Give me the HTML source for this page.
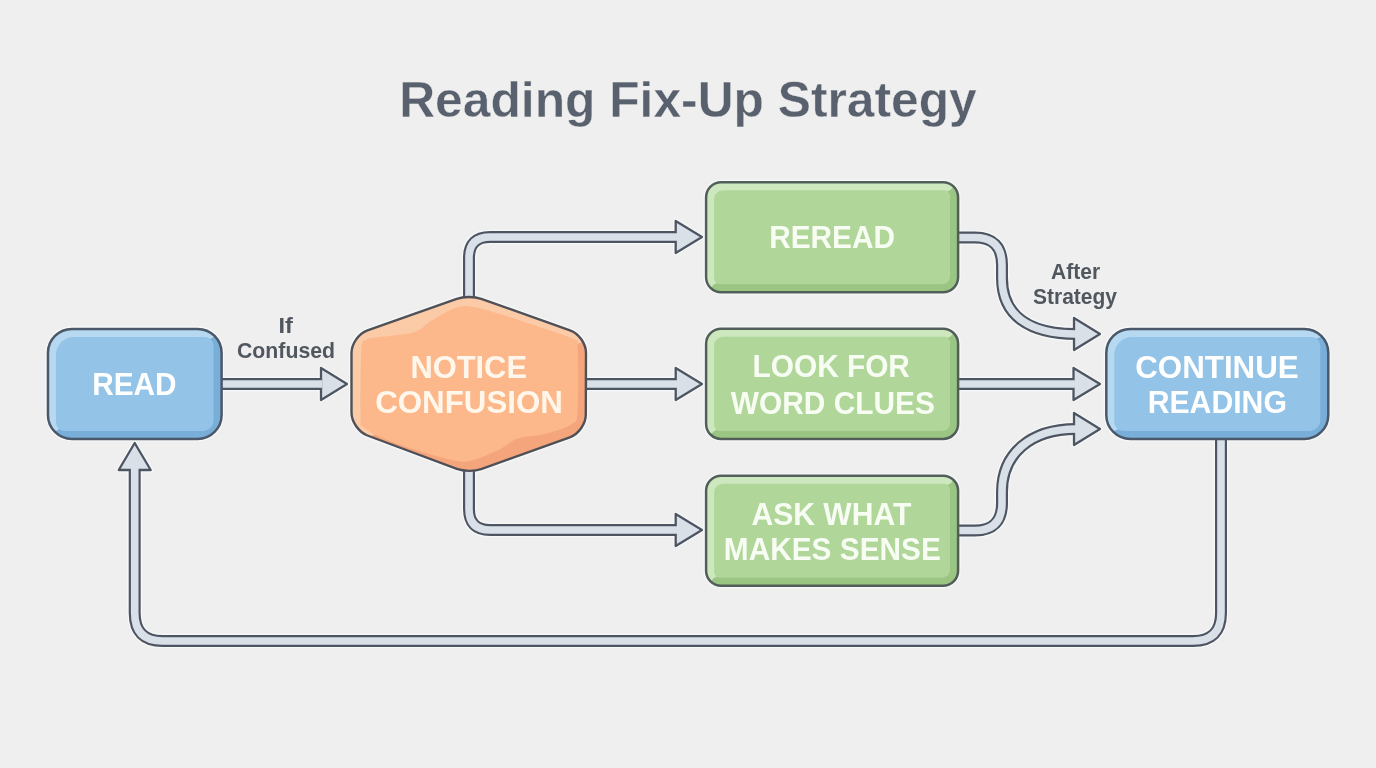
<!DOCTYPE html>
<html><head><meta charset="utf-8"><title>Reading Fix-Up Strategy</title>
<style>
html,body{margin:0;padding:0;background:#efefef;width:1376px;height:768px;overflow:hidden;}
svg{display:block;font-family:"Liberation Sans",sans-serif;will-change:transform;}
</style></head><body>
<svg width="1376" height="768" viewBox="0 0 1376 768">
<rect width="1376" height="768" fill="#efefef"/>
<path d="M 220 384 L 322 384" fill="none" stroke="#fbfdfe" stroke-opacity="0.6" stroke-width="14.6" stroke-linejoin="round"/>
<polygon points="321,368 347,384 321,400" fill="none" stroke="#fbfdfe" stroke-opacity="0.6" stroke-width="4.9" stroke-linejoin="round"/>
<path d="M 584 384 L 678 384" fill="none" stroke="#fbfdfe" stroke-opacity="0.6" stroke-width="14.6" stroke-linejoin="round"/>
<polygon points="675.7,368 702,384 675.7,400" fill="none" stroke="#fbfdfe" stroke-opacity="0.6" stroke-width="4.9" stroke-linejoin="round"/>
<path d="M 469 300 L 469 258 Q 469 237 490 237 L 678 237" fill="none" stroke="#fbfdfe" stroke-opacity="0.6" stroke-width="14.6" stroke-linejoin="round"/>
<polygon points="675.7,221 702,237 675.7,253" fill="none" stroke="#fbfdfe" stroke-opacity="0.6" stroke-width="4.9" stroke-linejoin="round"/>
<path d="M 469 468 L 469 509 Q 469 530 490 530 L 678 530" fill="none" stroke="#fbfdfe" stroke-opacity="0.6" stroke-width="14.6" stroke-linejoin="round"/>
<polygon points="675.7,514 702,530 675.7,546" fill="none" stroke="#fbfdfe" stroke-opacity="0.6" stroke-width="4.9" stroke-linejoin="round"/>
<path d="M 957 384 L 1076 384" fill="none" stroke="#fbfdfe" stroke-opacity="0.6" stroke-width="14.6" stroke-linejoin="round"/>
<polygon points="1073.5,368 1100,384 1073.5,400" fill="none" stroke="#fbfdfe" stroke-opacity="0.6" stroke-width="4.9" stroke-linejoin="round"/>
<path d="M 957 237.5 L 975 237.5 Q 1002 237.5 1002 265 L 1002 278 C 1002 316 1030 334 1076 334" fill="none" stroke="#fbfdfe" stroke-opacity="0.6" stroke-width="14.6" stroke-linejoin="round"/>
<polygon points="1074,318 1100,334 1074,350" fill="none" stroke="#fbfdfe" stroke-opacity="0.6" stroke-width="4.9" stroke-linejoin="round"/>
<path d="M 957 530.5 L 975 530.5 Q 1002 530.5 1002 503 L 1002 492 C 1002 454 1030 429 1076 429" fill="none" stroke="#fbfdfe" stroke-opacity="0.6" stroke-width="14.6" stroke-linejoin="round"/>
<polygon points="1074,413 1100,429 1074,445" fill="none" stroke="#fbfdfe" stroke-opacity="0.6" stroke-width="4.9" stroke-linejoin="round"/>
<path d="M 1221 437 L 1221 613 Q 1221 641 1193 641 L 162.5 641 Q 134.7 641 134.7 613 L 134.7 468" fill="none" stroke="#fbfdfe" stroke-opacity="0.6" stroke-width="14.6" stroke-linejoin="round"/>
<polygon points="118.7,470 134.7,443 150.7,470" fill="none" stroke="#fbfdfe" stroke-opacity="0.6" stroke-width="4.9" stroke-linejoin="round"/>
<rect x="47.95" y="328.9" width="173.65" height="110.1" rx="24" fill="none" stroke="#fbfdfe" stroke-opacity="0.6" stroke-width="5.1"/>
<rect x="1106.3" y="328.9" width="222" height="110" rx="24" fill="none" stroke="#fbfdfe" stroke-opacity="0.6" stroke-width="5.1"/>
<rect x="706.1" y="182.2" width="252" height="110" rx="15" fill="none" stroke="#fbfdfe" stroke-opacity="0.6" stroke-width="5.1"/>
<rect x="706.1" y="328.8" width="252" height="110.1" rx="15" fill="none" stroke="#fbfdfe" stroke-opacity="0.6" stroke-width="5.1"/>
<rect x="706.1" y="475.7" width="252" height="110.15" rx="15" fill="none" stroke="#fbfdfe" stroke-opacity="0.6" stroke-width="5.1"/>
<path d="M 456.7 298.8 C 463.5 296.4 474.5 296.5 481.3 298.8 L 570.0 330.3 C 578.8 333.4 586.0 343.6 586.0 353.0 L 585.8 414.5 C 585.8 423.9 578.6 434.1 569.8 437.3 L 481.2 469.1 C 474.5 471.5 463.5 471.4 456.8 468.9 L 367.4 435.5 C 358.7 432.2 351.5 421.9 351.5 412.5 L 351.5 353.0 C 351.5 343.6 358.7 333.5 367.5 330.3 Z" fill="none" stroke="#fbfdfe" stroke-opacity="0.6" stroke-width="5" stroke-linejoin="round"/>
<path d="M 220 384 L 322 384" fill="none" stroke="#4e5562" stroke-width="12.0" stroke-linejoin="round"/>
<polygon points="321,368 347,384 321,400" fill="#d9e0e8" stroke="#4e5562" stroke-width="2.3" stroke-linejoin="round"/>
<path d="M 220 384 L 322 384" fill="none" stroke="#d9e0e8" stroke-width="7.6" stroke-linejoin="round"/>
<path d="M 584 384 L 678 384" fill="none" stroke="#4e5562" stroke-width="12.0" stroke-linejoin="round"/>
<polygon points="675.7,368 702,384 675.7,400" fill="#d9e0e8" stroke="#4e5562" stroke-width="2.3" stroke-linejoin="round"/>
<path d="M 584 384 L 678 384" fill="none" stroke="#d9e0e8" stroke-width="7.6" stroke-linejoin="round"/>
<path d="M 469 300 L 469 258 Q 469 237 490 237 L 678 237" fill="none" stroke="#4e5562" stroke-width="12.0" stroke-linejoin="round"/>
<polygon points="675.7,221 702,237 675.7,253" fill="#d9e0e8" stroke="#4e5562" stroke-width="2.3" stroke-linejoin="round"/>
<path d="M 469 300 L 469 258 Q 469 237 490 237 L 678 237" fill="none" stroke="#d9e0e8" stroke-width="7.6" stroke-linejoin="round"/>
<path d="M 469 468 L 469 509 Q 469 530 490 530 L 678 530" fill="none" stroke="#4e5562" stroke-width="12.0" stroke-linejoin="round"/>
<polygon points="675.7,514 702,530 675.7,546" fill="#d9e0e8" stroke="#4e5562" stroke-width="2.3" stroke-linejoin="round"/>
<path d="M 469 468 L 469 509 Q 469 530 490 530 L 678 530" fill="none" stroke="#d9e0e8" stroke-width="7.6" stroke-linejoin="round"/>
<path d="M 957 384 L 1076 384" fill="none" stroke="#4e5562" stroke-width="12.0" stroke-linejoin="round"/>
<polygon points="1073.5,368 1100,384 1073.5,400" fill="#d9e0e8" stroke="#4e5562" stroke-width="2.3" stroke-linejoin="round"/>
<path d="M 957 384 L 1076 384" fill="none" stroke="#d9e0e8" stroke-width="7.6" stroke-linejoin="round"/>
<path d="M 957 237.5 L 975 237.5 Q 1002 237.5 1002 265 L 1002 278 C 1002 316 1030 334 1076 334" fill="none" stroke="#4e5562" stroke-width="12.0" stroke-linejoin="round"/>
<polygon points="1074,318 1100,334 1074,350" fill="#d9e0e8" stroke="#4e5562" stroke-width="2.3" stroke-linejoin="round"/>
<path d="M 957 237.5 L 975 237.5 Q 1002 237.5 1002 265 L 1002 278 C 1002 316 1030 334 1076 334" fill="none" stroke="#d9e0e8" stroke-width="7.6" stroke-linejoin="round"/>
<path d="M 957 530.5 L 975 530.5 Q 1002 530.5 1002 503 L 1002 492 C 1002 454 1030 429 1076 429" fill="none" stroke="#4e5562" stroke-width="12.0" stroke-linejoin="round"/>
<polygon points="1074,413 1100,429 1074,445" fill="#d9e0e8" stroke="#4e5562" stroke-width="2.3" stroke-linejoin="round"/>
<path d="M 957 530.5 L 975 530.5 Q 1002 530.5 1002 503 L 1002 492 C 1002 454 1030 429 1076 429" fill="none" stroke="#d9e0e8" stroke-width="7.6" stroke-linejoin="round"/>
<path d="M 1221 437 L 1221 613 Q 1221 641 1193 641 L 162.5 641 Q 134.7 641 134.7 613 L 134.7 468" fill="none" stroke="#4e5562" stroke-width="12.0" stroke-linejoin="round"/>
<polygon points="118.7,470 134.7,443 150.7,470" fill="#d9e0e8" stroke="#4e5562" stroke-width="2.3" stroke-linejoin="round"/>
<path d="M 1221 437 L 1221 613 Q 1221 641 1193 641 L 162.5 641 Q 134.7 641 134.7 613 L 134.7 468" fill="none" stroke="#d9e0e8" stroke-width="7.6" stroke-linejoin="round"/>
<clipPath id="b1"><rect x="47.95" y="328.9" width="173.65" height="110.1" rx="24"/></clipPath>
<g clip-path="url(#b1)">
<rect x="47.95" y="328.9" width="173.65" height="110.1" fill="#b6d8f0"/>
<polygon points="221.60000000000002,328.9 221.60000000000002,439.0 47.95,439.0 55.95,431.0 213.60000000000002,336.9" fill="#79aed8"/>
<path d="M 73.95 336.9 L 204.60000000000002 336.9 C 209.57070000000002 336.9 213.60000000000002 340.92929999999996 213.60000000000002 345.9 L 213.60000000000002 420.0 C 213.60000000000002 426.0753 208.67530000000002 431.0 202.60000000000002 431.0 L 64.95 431.0 C 59.9793 431.0 55.95 426.9707 55.95 422.0 L 55.95 354.9 C 55.95 344.9586 64.0086 336.9 73.95 336.9 Z" fill="#93c3e6"/>
</g>
<rect x="47.95" y="328.9" width="173.65" height="110.1" rx="24" fill="none" stroke="#4a586a" stroke-width="2.5"/>
<clipPath id="b2"><rect x="1106.3" y="328.9" width="222" height="110" rx="24"/></clipPath>
<g clip-path="url(#b2)">
<rect x="1106.3" y="328.9" width="222" height="110" fill="#b6d8f0"/>
<polygon points="1328.3,328.9 1328.3,438.9 1106.3,438.9 1114.3,430.9 1320.3,336.9" fill="#79aed8"/>
<path d="M 1132.3 336.9 L 1311.3 336.9 C 1316.2707 336.9 1320.3 340.92929999999996 1320.3 345.9 L 1320.3 419.9 C 1320.3 425.9753 1315.3753 430.9 1309.3 430.9 L 1123.3 430.9 C 1118.3292999999999 430.9 1114.3 426.8707 1114.3 421.9 L 1114.3 354.9 C 1114.3 344.9586 1122.3586 336.9 1132.3 336.9 Z" fill="#93c3e6"/>
</g>
<rect x="1106.3" y="328.9" width="222" height="110" rx="24" fill="none" stroke="#4a586a" stroke-width="2.5"/>
<clipPath id="g0"><rect x="706.1" y="182.2" width="252" height="110" rx="15"/></clipPath>
<g clip-path="url(#g0)">
<rect x="706.1" y="182.2" width="252" height="110" fill="#cde8bf"/>
<polygon points="958.1,182.2 958.1,292.2 706.1,292.2 714.1,284.2 950.1,190.2" fill="#9bc583"/>
<path d="M 723.1 190.2 L 944.1 190.2 C 947.4138 190.2 950.1 192.8862 950.1 196.2 L 950.1 276.2 C 950.1 280.6184 946.5184 284.2 942.1 284.2 L 720.1 284.2 C 716.7862 284.2 714.1 281.5138 714.1 278.2 L 714.1 199.2 C 714.1 194.2293 718.1293000000001 190.2 723.1 190.2 Z" fill="#b0d69a"/>
</g>
<rect x="706.1" y="182.2" width="252" height="110" rx="15" fill="none" stroke="#525e5a" stroke-width="2.5"/>
<clipPath id="g1"><rect x="706.1" y="328.8" width="252" height="110.1" rx="15"/></clipPath>
<g clip-path="url(#g1)">
<rect x="706.1" y="328.8" width="252" height="110.1" fill="#cde8bf"/>
<polygon points="958.1,328.8 958.1,438.9 706.1,438.9 714.1,430.9 950.1,336.8" fill="#9bc583"/>
<path d="M 723.1 336.8 L 944.1 336.8 C 947.4138 336.8 950.1 339.4862 950.1 342.8 L 950.1 422.9 C 950.1 427.3184 946.5184 430.9 942.1 430.9 L 720.1 430.9 C 716.7862 430.9 714.1 428.2138 714.1 424.9 L 714.1 345.8 C 714.1 340.8293 718.1293000000001 336.8 723.1 336.8 Z" fill="#b0d69a"/>
</g>
<rect x="706.1" y="328.8" width="252" height="110.1" rx="15" fill="none" stroke="#525e5a" stroke-width="2.5"/>
<clipPath id="g2"><rect x="706.1" y="475.7" width="252" height="110.15" rx="15"/></clipPath>
<g clip-path="url(#g2)">
<rect x="706.1" y="475.7" width="252" height="110.15" fill="#cde8bf"/>
<polygon points="958.1,475.7 958.1,585.85 706.1,585.85 714.1,577.85 950.1,483.7" fill="#9bc583"/>
<path d="M 723.1 483.7 L 944.1 483.7 C 947.4138 483.7 950.1 486.3862 950.1 489.7 L 950.1 569.85 C 950.1 574.2684 946.5184 577.85 942.1 577.85 L 720.1 577.85 C 716.7862 577.85 714.1 575.1638 714.1 571.85 L 714.1 492.7 C 714.1 487.72929999999997 718.1293000000001 483.7 723.1 483.7 Z" fill="#b0d69a"/>
</g>
<rect x="706.1" y="475.7" width="252" height="110.15" rx="15" fill="none" stroke="#525e5a" stroke-width="2.5"/>
<clipPath id="hx"><path d="M 456.7 298.8 C 463.5 296.4 474.5 296.5 481.3 298.8 L 570.0 330.3 C 578.8 333.4 586.0 343.6 586.0 353.0 L 585.8 414.5 C 585.8 423.9 578.6 434.1 569.8 437.3 L 481.2 469.1 C 474.5 471.5 463.5 471.4 456.8 468.9 L 367.4 435.5 C 358.7 432.2 351.5 421.9 351.5 412.5 L 351.5 353.0 C 351.5 343.6 358.7 333.5 367.5 330.3 Z"/></clipPath>
<g clip-path="url(#hx)">
<path d="M 456.7 298.8 C 463.5 296.4 474.5 296.5 481.3 298.8 L 570.0 330.3 C 578.8 333.4 586.0 343.6 586.0 353.0 L 585.8 414.5 C 585.8 423.9 578.6 434.1 569.8 437.3 L 481.2 469.1 C 474.5 471.5 463.5 471.4 456.8 468.9 L 367.4 435.5 C 358.7 432.2 351.5 421.9 351.5 412.5 L 351.5 353.0 C 351.5 343.6 358.7 333.5 367.5 330.3 Z" fill="#f4a57b"/>
<polygon points="330,270 620,270 620,325 351,445 330,445" fill="#fbcaa6"/>
<path d="M 361.4 350.0 C 362.3 337.0 363.9 342.1 366.0 340.0 C 368.1 337.9 366.0 339.0 374.0 337.7 C 382.0 336.4 404.6 334.9 414.0 332.2 C 423.4 329.5 423.7 325.2 430.4 321.3 C 437.1 317.4 447.0 311.0 454.0 308.6 C 461.0 306.2 463.1 305.4 472.2 306.8 C 481.3 308.2 491.9 311.5 508.5 316.8 C 525.1 322.1 560.5 333.6 572.0 338.5 C 583.5 343.4 576.7 334.1 577.6 346.0 C 578.5 357.9 578.5 397.0 577.6 410.0 C 576.7 423.0 577.5 420.0 572.0 424.0 C 566.5 428.0 554.0 431.6 544.9 434.0 C 535.8 436.4 525.2 436.0 517.6 438.6 C 510.0 441.2 507.0 445.9 499.4 449.5 C 491.8 453.1 479.8 458.7 472.2 460.5 C 464.6 462.3 463.1 462.2 454.0 460.5 C 444.9 458.8 429.8 454.3 417.7 450.5 C 405.6 446.7 390.6 441.6 381.3 437.5 C 372.0 433.4 365.5 429.2 362.0 426.0 C 358.5 422.8 360.6 430.7 360.5 418.0 C 360.4 405.3 360.5 363.0 361.4 350.0 Z" fill="#fcb88a"/>
</g>
<path d="M 456.7 298.8 C 463.5 296.4 474.5 296.5 481.3 298.8 L 570.0 330.3 C 578.8 333.4 586.0 343.6 586.0 353.0 L 585.8 414.5 C 585.8 423.9 578.6 434.1 569.8 437.3 L 481.2 469.1 C 474.5 471.5 463.5 471.4 456.8 468.9 L 367.4 435.5 C 358.7 432.2 351.5 421.9 351.5 412.5 L 351.5 353.0 C 351.5 343.6 358.7 333.5 367.5 330.3 Z" fill="none" stroke="#4f5058" stroke-width="2.4" stroke-linejoin="round"/>
<text x="399.2" y="117.2" font-size="49.5" font-weight="bold" fill="#59616e" stroke="#efefef" stroke-width="0.4" textLength="577.5999999999999" lengthAdjust="spacingAndGlyphs">Reading Fix-Up Strategy</text>
<text x="92.2" y="395.2" font-size="32" font-weight="bold" fill="#ffffff"  textLength="84.39999999999999" lengthAdjust="spacingAndGlyphs">READ</text>
<text x="410.4" y="378.4" font-size="32" font-weight="bold" fill="#fff7ec"  textLength="116.60000000000002" lengthAdjust="spacingAndGlyphs">NOTICE</text>
<text x="375.2" y="413.2" font-size="32" font-weight="bold" fill="#fff7ec"  textLength="187.7" lengthAdjust="spacingAndGlyphs">CONFUSION</text>
<text x="769.2" y="248.3" font-size="32" font-weight="bold" fill="#f8fdf4"  textLength="125.79999999999995" lengthAdjust="spacingAndGlyphs">REREAD</text>
<text x="752.6" y="377.4" font-size="32" font-weight="bold" fill="#f8fdf4"  textLength="157.29999999999995" lengthAdjust="spacingAndGlyphs">LOOK FOR</text>
<text x="730.8" y="413.5" font-size="32" font-weight="bold" fill="#f8fdf4"  textLength="204.10000000000002" lengthAdjust="spacingAndGlyphs">WORD CLUES</text>
<text x="751.4" y="525.0" font-size="32" font-weight="bold" fill="#f8fdf4"  textLength="160.0" lengthAdjust="spacingAndGlyphs">ASK WHAT</text>
<text x="723.8" y="560.1" font-size="32" font-weight="bold" fill="#f8fdf4"  textLength="217.10000000000002" lengthAdjust="spacingAndGlyphs">MAKES SENSE</text>
<text x="1135.2" y="378.2" font-size="32" font-weight="bold" fill="#ffffff"  textLength="163.5" lengthAdjust="spacingAndGlyphs">CONTINUE</text>
<text x="1147.7" y="413.1" font-size="32" font-weight="bold" fill="#ffffff"  textLength="139.20000000000005" lengthAdjust="spacingAndGlyphs">READING</text>
<text x="278.5" y="333.0" font-size="21.5" font-weight="bold" fill="#51575f"  textLength="14.399999999999977" lengthAdjust="spacingAndGlyphs">If</text>
<text x="237.0" y="358.0" font-size="21.5" font-weight="bold" fill="#51575f"  textLength="98.10000000000002" lengthAdjust="spacingAndGlyphs">Confused</text>
<text x="1051.0" y="278.75" font-size="21.5" font-weight="bold" fill="#51575f"  textLength="49.09999999999991" lengthAdjust="spacingAndGlyphs">After</text>
<text x="1033.0" y="303.75" font-size="21.5" font-weight="bold" fill="#51575f"  textLength="84.0" lengthAdjust="spacingAndGlyphs">Strategy</text>
</svg>
</body></html>
